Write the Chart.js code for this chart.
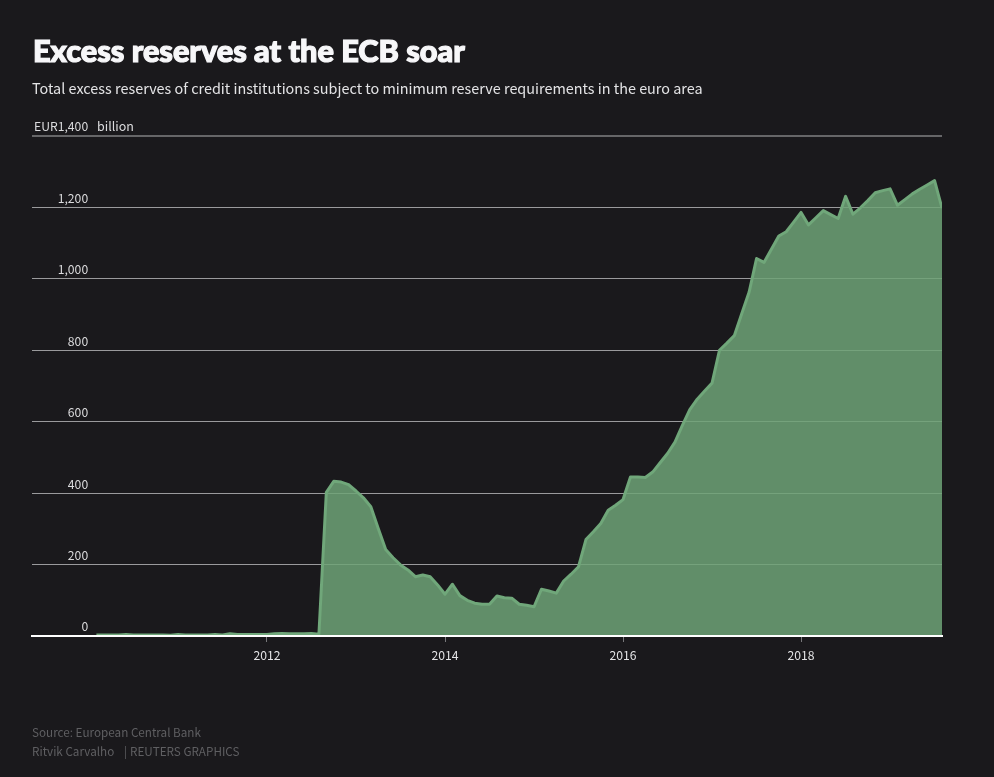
<!DOCTYPE html>
<html><head><meta charset="utf-8">
<style>
html,body{margin:0;padding:0;background:#1a191c;width:994px;height:777px;overflow:hidden}
#wrap{position:relative;width:994px;height:777px}
canvas{position:absolute;left:0;top:0}
.t{position:absolute;white-space:nowrap;font-family:"Noto Sans CJK SC","Noto Sans",sans-serif}
#title{left:33px;top:32px;font:900 30.7px/38px Lato,sans-serif;color:#f7f7f9;-webkit-text-stroke:1.2px #f7f7f9;letter-spacing:0}
#sub{left:32px;top:78px;font-size:14.42px;line-height:20px;color:#e4e4e6}
#unit{left:97px;top:117px;font-size:12.5px;line-height:18px;color:#dcdcde}
.f{left:32px;font-size:11.7px;line-height:18px;color:#5f5f62}
</style></head><body>
<div id="wrap">
<canvas id="c" width="994" height="777"></canvas>
<div class="t" id="title">Excess reserves at the ECB soar</div>
<div class="t" id="sub">Total excess reserves of credit institutions subject to minimum reserve requirements in the euro area</div>
<div class="t" id="unit">billion</div>
<div class="t f" style="top:723px">Source: European Central Bank</div>
<div class="t f" style="top:742px">Ritvik Carvalho</div>
<div class="t f" style="top:742px;left:124px">|</div>
<div class="t f" style="top:742px;left:130px">REUTERS GRAPHICS</div>
</div>
<script src="https://cdn.jsdelivr.net/npm/chart.js@4/dist/chart.umd.min.js"></script>
<script>
const firstYear = 2010, firstMonth = 2;
const excessReserves = [
 3,3,3,3,4,3,3,3,3,3,2,4,3,3,3,3,4,3,6,4,4,4,4,4,6,7,6,6,6,7,5,
 402,433,431,424,406,387,362,301,242,219,199,185,166,171,166,143,
 117,145,113,100,92,89,89,112,107,106,89,86,82,131,126,120,154,173,194,270,292,315,352,366,
 382,445,445,444,459,485,511,543,590,634,663,686,
 708,800,820,841,902,963,1057,1046,1083,1120,1132,1159,
 1186,1151,1171,1191,1180,1169,1231,1181,1199,1219,1241,1247,
 1252,1206,1222,1238,1251,1263,1275,1198
];
const xTickYears = [2012, 2014, 2016, 2018];
const yTickValues = [0, 200, 400, 600, 800, 1000, 1200, 1400];
const yTickLabels = ['0', '200', '400', '600', '800', '1,000', '1,200', 'EUR1,400'];

const monthsFromYear = (y, m) => (y - 2012) * 12 + (m - 1);
const points = excessReserves.map((v, i) => ({ x: monthsFromYear(firstYear, firstMonth) + i, y: v }));
const font = { family: '"Noto Sans CJK SC","Noto Sans",sans-serif', size: 12.2 };

new Chart(document.getElementById('c'), {
  type: 'line',
  data: { datasets: [{
    data: points,
    borderColor: 'rgb(112,167,122)',
    backgroundColor: 'rgba(110,163,119,.85)',
    borderWidth: 3,
    fill: 'origin',
    pointRadius: 0,
    tension: 0,
    borderJoinStyle: 'round'
  }]},
  options: {
    responsive: false,
    animation: false,
    devicePixelRatio: 1,
    layout: { padding: { left: 32, right: 52, top: 136, bottom: 0 } },
    plugins: { legend: { display: false }, tooltip: { enabled: false } },
    scales: {
      x: {
        type: 'linear',
        min: -31.68,
        max: 91,
        afterFit: s => { s.height = 141; },
        afterBuildTicks: s => { s.ticks = xTickYears.map(y => ({ value: monthsFromYear(y, 1) })); },
        grid: { drawOnChartArea: false, drawTicks: true, tickLength: 6, tickColor: '#77777a', tickWidth: 1 },
        border: { display: true, color: '#ffffff', width: 2, z: 1 },
        ticks: {
          color: '#e4e4e6', font, padding: 6, maxRotation: 0, autoSkip: false,
          callback: v => String(2012 + v / 12)
        }
      },
      y: {
        min: 0,
        max: 1400,
        afterFit: s => { s.width = 0; },
        afterBuildTicks: s => { s.ticks = yTickValues.map(value => ({ value })); },
        grid: {
          drawTicks: false,
          color: c => c.tick && c.tick.value === 1400 ? '#666668' : '#9a9a9c',
          lineWidth: c => c.tick && c.tick.value === 1400 ? 2 : 1
        },
        border: { display: false },
        ticks: {
          color: '#dcdcde',
          font: { ...font, lineHeight: 1.5 },
          mirror: true,
          crossAlign: 'far',
          padding: 2,
          callback: v => [yTickLabels[yTickValues.indexOf(v)], '']
        }
      }
    }
  }
});
</script>
</body></html>
